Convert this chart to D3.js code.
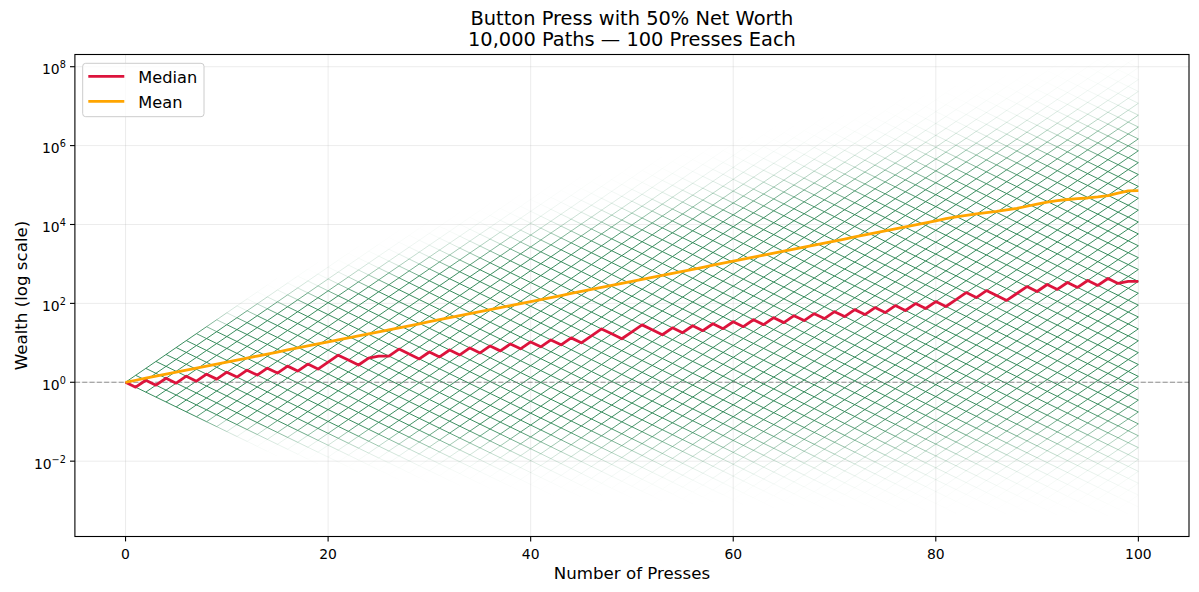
<!DOCTYPE html>
<html><head><meta charset="utf-8">
<script src="https://cdn.jsdelivr.net/npm/d3@7"></script>
<style>body{margin:0;background:#fff} text{font-family:"DejaVu Sans",sans-serif;fill:#000}</style>
</head><body><svg id="c" width="1199" height="592"></svg>
<script>
// ---- data ----
const titleLines = ["Button Press with 50% Net Worth", "10,000 Paths \u2014 100 Presses Each"];
const presses = d3.range(0, 101);
const UP = 1.5, DOWN = 0.75, N_PATHS = 10000, N_PRESSES = 100;
const medianValues = [
1,0.75,1.125,0.8438,1.266,0.9492,1.424,1.068,1.602,1.201,
1.802,1.352,2.027,1.520,2.281,1.711,2.566,1.924,2.887,2.165,
3.247,4.871,3.653,2.740,4.110,4.624,4.624,6.936,5.202,3.901,
5.852,4.389,6.583,4.937,7.406,5.555,8.332,6.249,9.373,7.030,
10.55,7.909,11.86,8.897,13.35,10.01,15.01,22.52,16.89,12.67,
19.00,28.50,21.38,16.03,24.05,18.04,27.06,20.29,30.44,22.83,
34.24,25.68,38.52,28.89,43.34,32.50,48.76,36.57,54.85,41.14,
61.71,46.28,69.42,52.07,78.10,58.57,87.86,65.90,98.84,74.13,
111.2,83.40,125.1,187.6,140.7,211.1,158.3,118.7,178.1,267.2,
200.4,300.6,225.4,338.1,253.6,380.4,285.3,428.0,321.0,361.1,361.1];
const meanValues = [
1,1.125,1.266,1.424,1.602,1.802,2.027,2.281,2.566,2.887,
3.247,3.653,4.110,4.624,5.202,5.852,6.583,7.406,8.332,9.373,
10.55,11.86,13.35,15.01,16.89,19.00,21.38,24.05,27.06,30.44,
34.24,38.52,43.34,48.76,54.85,61.71,69.42,78.10,87.86,98.84,
111.2,125.1,140.7,158.3,178.1,200.4,225.4,253.6,285.3,321.0,
361.1,406.2,457.0,514.1,578.4,650.7,732.0,823.5,926.5,1042,
1173,1319,1484,1670,1878,2113,2377,2675,3009,3385,
3808,4284,4820,5422,6100,6863,7720,8686,9771,10990,
12370,14000,15500,17000,18500,20000,21500,23500,25500,29000,
33000,37000,40500,43000,45000,47000,50000,54000,62000,71000,72000];
const xTicks = [0, 20, 40, 60, 80, 100];
const yTickExps = [-2, 0, 2, 4, 6, 8];
const xDomain = [-5, 105];
const yDomain = [1.23e-4, 2.04e8];
const legendItems = [{label: "Median", color: "#DC143C"}, {label: "Mean", color: "#FFA500"}];

// ---- layout ----
const L = 74.9, R = 1189, T = 54.5, B = 536.5;
const svg = d3.select("#c");
const x = d3.scaleLinear().domain(xDomain).range([L, R]);
const y = d3.scaleLog().domain(yDomain).range([B, T]);

svg.append("defs").append("clipPath").attr("id", "clip")
  .append("rect").attr("x", L).attr("y", T).attr("width", R - L).attr("height", B - T);

// grid
const grid = svg.append("g");
grid.selectAll("line.gx").data(xTicks).join("line")
  .attr("x1", d => x(d)).attr("x2", d => x(d)).attr("y1", T).attr("y2", B)
  .attr("stroke", "#b0b0b0").attr("stroke-opacity", 0.3).attr("stroke-width", 0.8);
grid.selectAll("line.gy").data(yTickExps).join("line")
  .attr("y1", d => y(Math.pow(10, d))).attr("y2", d => y(Math.pow(10, d))).attr("x1", L).attr("x2", R)
  .attr("stroke", "#b0b0b0").attr("stroke-opacity", 0.3).attr("stroke-width", 0.8);

// lattice of paths (edge opacity from number of paths crossing each edge)
const PATH_ALPHA = 0.05;
const lf = [0];
for (let i = 1; i <= N_PRESSES; i++) lf[i] = lf[i - 1] + Math.log(i);
const edges = [];
for (let n = 0; n < N_PRESSES; n++) {
  for (let k = 0; k <= n; k++) {
    const p = Math.exp(lf[n] - lf[k] - lf[n - k] - n * Math.LN2);
    const c = N_PATHS * p * 0.5;
    if (c < 0.03) continue;
    const op = 1 - Math.pow(1 - PATH_ALPHA, c);
    const w0 = Math.pow(UP, k) * Math.pow(DOWN, n - k);
    edges.push({n, w0, w1: w0 * UP, op});
    edges.push({n, w0, w1: w0 * DOWN, op});
  }
}
const lat = svg.append("g").attr("clip-path", "url(#clip)");
lat.selectAll("line").data(edges).join("line")
  .attr("x1", d => x(d.n)).attr("x2", d => x(d.n + 1))
  .attr("y1", d => y(d.w0)).attr("y2", d => y(d.w1))
  .attr("stroke", "#23804c").attr("stroke-width", 0.9).attr("stroke-opacity", d => d.op);

// reference line at 1
svg.append("line").attr("x1", L).attr("x2", R).attr("y1", y(1)).attr("y2", y(1))
  .attr("stroke", "#808080").attr("stroke-width", 1.2).attr("stroke-dasharray", "5.1,2.2").attr("opacity", 0.85);

// median and mean
const line = d3.line().x((d, i) => x(presses[i])).y(d => y(d));
svg.append("path").datum(medianValues).attr("d", line).attr("fill", "none")
  .attr("stroke", legendItems[0].color).attr("stroke-width", 2.8).attr("stroke-linejoin", "round");
svg.append("path").datum(meanValues).attr("d", line).attr("fill", "none")
  .attr("stroke", legendItems[1].color).attr("stroke-width", 2.8).attr("stroke-linejoin", "round");

// spines
svg.append("rect").attr("x", L).attr("y", T).attr("width", R - L).attr("height", B - T)
  .attr("fill", "none").attr("stroke", "#000").attr("stroke-width", 1.1);

// x ticks
const gx = svg.append("g");
xTicks.forEach(t => {
  gx.append("line").attr("x1", x(t)).attr("x2", x(t)).attr("y1", B).attr("y2", B + 4.9).attr("stroke", "#000").attr("stroke-width", 1.1);
  gx.append("text").attr("x", x(t)).attr("y", B + 22).attr("text-anchor", "middle").attr("font-size", 13.9).text(t);
});
// y ticks
const gy = svg.append("g");
yTickExps.forEach(e => {
  const yy = y(Math.pow(10, e));
  gy.append("line").attr("x1", L - 4.9).attr("x2", L).attr("y1", yy).attr("y2", yy).attr("stroke", "#000").attr("stroke-width", 1.1);
  const t = gy.append("text").attr("x", L - 9).attr("y", yy + 7.5).attr("text-anchor", "end").attr("font-size", 13.9);
  t.append("tspan").text("10");
  t.append("tspan").attr("dy", -6).attr("font-size", 9.7).text(e < 0 ? "\u2212" + Math.abs(e) : String(e));
});

// axis labels
svg.append("text").attr("x", (L + R) / 2).attr("y", 579).attr("text-anchor", "middle").attr("font-size", 16.67).text("Number of Presses");
svg.append("text").attr("transform", `translate(27,${(T + B) / 2}) rotate(-90)`).attr("text-anchor", "middle").attr("font-size", 16.67).text("Wealth (log scale)");

// title
svg.append("text").attr("x", (L + R) / 2).attr("y", 25).attr("text-anchor", "middle").attr("font-size", 19.4).text(titleLines[0]);
svg.append("text").attr("x", (L + R) / 2).attr("y", 45.7).attr("text-anchor", "middle").attr("font-size", 19.4).text(titleLines[1]);

// legend
const lg = svg.append("g");
lg.append("rect").attr("x", 82.7).attr("y", 63.3).attr("width", 121.3).attr("height", 53.4).attr("rx", 3)
  .attr("fill", "#fff").attr("fill-opacity", 0.8).attr("stroke", "#cccccc").attr("stroke-width", 1);
legendItems.forEach((d, i) => {
  const yy = 76.3 + i * 25;
  lg.append("line").attr("x1", 88.3).attr("x2", 124.3).attr("y1", yy).attr("y2", yy).attr("stroke", d.color).attr("stroke-width", 2.8);
  lg.append("text").attr("x", 138.3).attr("y", yy + 6.2).attr("font-size", 16.2).text(d.label);
});
</script></body></html>
